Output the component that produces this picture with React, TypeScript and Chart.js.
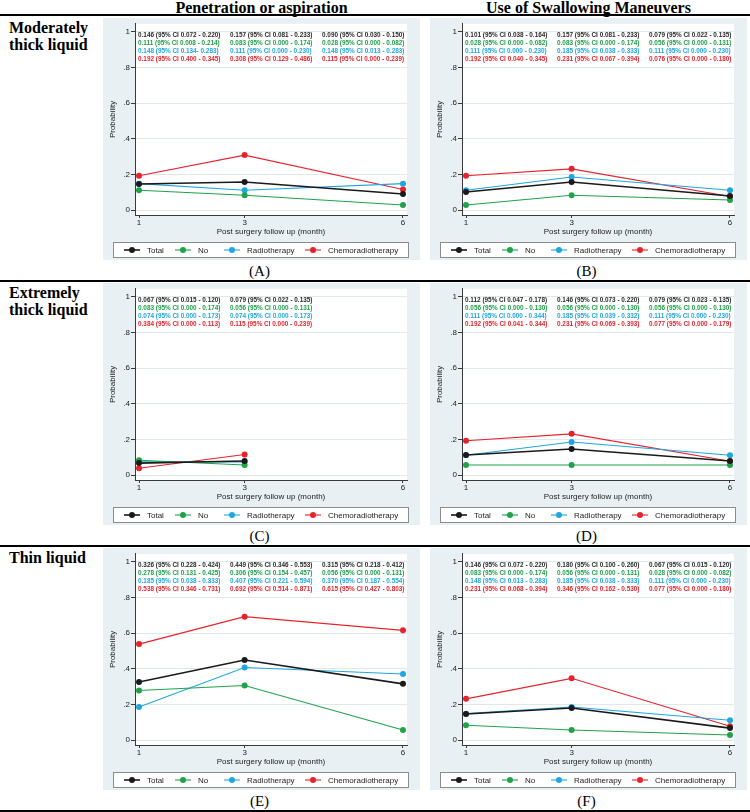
import React, { useEffect, useRef } from "react";
import { Chart, registerables } from "chart.js";

Chart.register(...registerables);

// ---- shared axes / series definitions ----
const months = [1, 3, 6];
const monthsShort = [1, 3];
const yTicks = [0, 0.2, 0.4, 0.6, 0.8, 1];
const seriesNames = ["Total", "No", "Radiotherapy", "Chemoradiotherapy"];
const seriesColors = ["#1a1a1a", "#1fa24a", "#1fa6e0", "#e8222b"];
const noteColors = ["#2a2a2a", "#1f9e48", "#22a5df", "#e4262e"];

// ---- (A) Penetration or aspiration, moderately thick liquid ----
const aTotal = [0.146, 0.157, 0.09];
const aNo = [0.111, 0.083, 0.028];
const aRadio = [0.148, 0.111, 0.148];
const aChemo = [0.192, 0.308, 0.115];
const aNotes = [
  ["0.146 (95% CI 0.072 - 0.220)", "0.157 (95% CI 0.081 - 0.233)", "0.090 (95% CI 0.030 - 0.150)"],
  ["0.111 (95% CI 0.008 - 0.214)", "0.083 (95% CI 0.000 - 0.174)", "0.028 (95% CI 0.000 - 0.082)"],
  ["0.148 (95% CI 0.134- 0.283)", "0.111 (95% CI 0.000 - 0.230)", "0.148 (95% CI 0.013 - 0.283)"],
  ["0.192 (95% CI 0.400 - 0.345)", "0.308 (95% CI 0.129 - 0.486)", "0.115 (95% CI 0.000 - 0.239)"],
];

// ---- (B) Use of swallowing maneuvers, moderately thick liquid ----
const bTotal = [0.101, 0.157, 0.079];
const bNo = [0.028, 0.083, 0.056];
const bRadio = [0.111, 0.185, 0.111];
const bChemo = [0.192, 0.231, 0.076];
const bNotes = [
  ["0.101 (95% CI 0.038 - 0.164)", "0.157 (95% CI 0.081 - 0.233)", "0.079 (95% CI 0.022 - 0.135)"],
  ["0.028 (95% CI 0.000 - 0.082)", "0.083 (95% CI 0.000 - 0.174)", "0.056 (95% CI 0.000 - 0.131)"],
  ["0.111 (95% CI 0.000 - 0.230)", "0.185 (95% CI 0.038 - 0.333)", "0.111 (95% CI 0.000 - 0.230)"],
  ["0.192 (95% CI 0.040 - 0.345)", "0.231 (95% CI 0.067 - 0.394)", "0.076 (95% CI 0.000 - 0.180)"],
];

// ---- (C) Penetration or aspiration, extremely thick liquid ----
const cTotal = [0.067, 0.079];
const cNo = [0.083, 0.056];
const cRadio = [0.074, 0.074];
const cChemo = [0.038, 0.115];
const cNotes = [
  ["0.067 (95% CI 0.015 - 0.120)", "0.079 (95% CI 0.022 - 0.135)"],
  ["0.083 (95% CI 0.000 - 0.174)", "0.056 (95% CI 0.000 - 0.131)"],
  ["0.074 (95% CI 0.000 - 0.173)", "0.074 (95% CI 0.000 - 0.173)"],
  ["0.384 (95% CI 0.000 - 0.113)", "0.115 (95% CI 0.000 - 0.239)"],
];

// ---- (D) Use of swallowing maneuvers, extremely thick liquid ----
const dTotal = [0.112, 0.146, 0.079];
const dNo = [0.056, 0.056, 0.056];
const dRadio = [0.111, 0.185, 0.111];
const dChemo = [0.192, 0.231, 0.077];
const dNotes = [
  ["0.112 (95% CI 0.047 - 0.178)", "0.146 (95% CI 0.073 - 0.220)", "0.079 (95% CI 0.023 - 0.135)"],
  ["0.056 (95% CI 0.000 - 0.130)", "0.056 (95% CI 0.000 - 0.130)", "0.056 (95% CI 0.000 - 0.130)"],
  ["0.111 (95% CI 0.000 - 0.344)", "0.185 (95% CI 0.039 - 0.332)", "0.111 (95% CI 0.000 - 0.230)"],
  ["0.192 (95% CI 0.041 - 0.344)", "0.231 (95% CI 0.069 - 0.393)", "0.077 (95% CI 0.000 - 0.179)"],
];

// ---- (E) Penetration or aspiration, thin liquid ----
const eTotal = [0.326, 0.449, 0.315];
const eNo = [0.278, 0.306, 0.056];
const eRadio = [0.185, 0.407, 0.37];
const eChemo = [0.538, 0.692, 0.615];
const eNotes = [
  ["0.326 (95% CI 0.228 - 0.424)", "0.449 (95% CI 0.346 - 0.553)", "0.315 (95% CI 0.218 - 0.412)"],
  ["0.278 (95% CI 0.131 - 0.425)", "0.306 (95% CI 0.154 - 0.457)", "0.056 (95% CI 0.000 - 0.131)"],
  ["0.185 (95% CI 0.038 - 0.333)", "0.407 (95% CI 0.221 - 0.594)", "0.370 (95% CI 0.187 - 0.554)"],
  ["0.538 (95% CI 0.346 - 0.731)", "0.692 (95% CI 0.514 - 0.871)", "0.615 (95% CI 0.427 - 0.803)"],
];

// ---- (F) Use of swallowing maneuvers, thin liquid ----
const fTotal = [0.146, 0.18, 0.067];
const fNo = [0.083, 0.056, 0.028];
const fRadio = [0.148, 0.185, 0.111];
const fChemo = [0.231, 0.346, 0.077];
const fNotes = [
  ["0.146 (95% CI 0.072 - 0.220)", "0.180 (95% CI 0.100 - 0.260)", "0.067 (95% CI 0.015 - 0.120)"],
  ["0.083 (95% CI 0.000 - 0.174)", "0.056 (95% CI 0.000 - 0.131)", "0.028 (95% CI 0.000 - 0.082)"],
  ["0.148 (95% CI 0.013 - 0.283)", "0.185 (95% CI 0.038 - 0.333)", "0.111 (95% CI 0.000 - 0.230)"],
  ["0.231 (95% CI 0.068 - 0.394)", "0.346 (95% CI 0.162 - 0.530)", "0.077 (95% CI 0.000 - 0.180)"],
];

const colHeaders = ["Penetration or aspiration", "Use of Swallowing Maneuvers"];
const rowLabels = [["Moderately", "thick liquid"], ["Extremely", "thick liquid"], ["Thin liquid"]];
const captions = ["(A)", "(B)", "(C)", "(D)", "(E)", "(F)"];

type PanelDef = {
  months: number[];
  series: number[][];
  notes: string[][];
};

const panels: PanelDef[] = [
  { months, series: [aTotal, aNo, aRadio, aChemo], notes: aNotes },
  { months, series: [bTotal, bNo, bRadio, bChemo], notes: bNotes },
  { months: monthsShort, series: [cTotal, cNo, cRadio, cChemo], notes: cNotes },
  { months, series: [dTotal, dNo, dRadio, dChemo], notes: dNotes },
  { months, series: [eTotal, eNo, eRadio, eChemo], notes: eNotes },
  { months, series: [fTotal, fNo, fRadio, fChemo], notes: fNotes },
];

// ---- layout ----
const PANEL_W = 317;
const PANEL_H = 242;
const COL_LEFT = [103, 430];
const ROW_PITCH = 265;
const PANEL_TOP0 = 18;
const SANS = '"Liberation Sans", Arial, sans-serif';
const SERIF = '"Liberation Serif", "Times New Roman", serif';
const PANEL_BG = "rgb(233,240,243)";
const GRID = "rgb(224,232,236)";
const AXIS = "#3a3a3a";
const INK = "#222";

const fmtY = (v: number) => (v === 0 ? "0" : v === 1 ? "1" : String(v).replace(/^0/, ""));

const backdrop = {
  id: "backdrop",
  beforeDraw(chart: any) {
    const { ctx, chartArea: a } = chart;
    ctx.save();
    ctx.fillStyle = PANEL_BG;
    ctx.fillRect(0, 0, chart.width, chart.height);
    ctx.fillStyle = "#ffffff";
    ctx.fillRect(a.left, a.top, a.right - a.left, a.bottom - a.top);
    ctx.restore();
  },
};

const notesPlugin = {
  id: "ciNotes",
  beforeDatasetsDraw(chart: any, _args: any, opts: any) {
    const { ctx, chartArea: a, scales } = chart;
    const y0 = scales.y.getPixelForValue(1);
    const notes: string[][] = opts.rows || [];
    ctx.save();
    ctx.font = `bold 6.4px ${SANS}`;
    ctx.textBaseline = "middle";
    ctx.textAlign = "left";
    notes.forEach((row, r) => {
      ctx.fillStyle = noteColors[r];
      row.forEach((txt, c) => {
        ctx.fillText(txt, a.left + 3 + c * 92, y0 + 3.5 + r * 8);
      });
    });
    ctx.restore();
  },
};

const legendBox = {
  id: "legendBox",
  afterDraw(chart: any) {
    const { ctx } = chart;
    const top = 224.5;
    const h = 15;
    ctx.save();
    ctx.fillStyle = "#ffffff";
    ctx.fillRect(10.5, top, 295, h);
    ctx.strokeStyle = "#8c8c8c";
    ctx.lineWidth = 1;
    ctx.strokeRect(10.5, top, 295, h);
    const cy = top + h / 2;
    const marks = [29, 80, 129, 210];
    ctx.font = `8px ${SANS}`;
    ctx.textBaseline = "middle";
    chart.data.datasets.forEach((ds: any, i: number) => {
      const m = marks[i];
      ctx.strokeStyle = seriesColors[i];
      ctx.lineWidth = ds.borderWidth;
      ctx.beginPath();
      ctx.moveTo(m - 8, cy);
      ctx.lineTo(m + 8, cy);
      ctx.stroke();
      ctx.fillStyle = seriesColors[i];
      ctx.beginPath();
      ctx.arc(m, cy, 3, 0, Math.PI * 2);
      ctx.fill();
      ctx.fillStyle = INK;
      ctx.fillText(ds.label, m + 15, cy + 0.5);
    });
    ctx.restore();
  },
};

function Panel({ def, left, top }: { def: PanelDef; left: number; top: number }) {
  const ref = useRef<HTMLCanvasElement>(null);
  useEffect(() => {
    const chart = new Chart(ref.current as HTMLCanvasElement, {
      type: "line",
      data: {
        datasets: seriesNames.map((name, i) => ({
          label: name,
          data: def.series[i].map((v, j) => ({ x: def.months[j], y: v })),
          borderColor: seriesColors[i],
          backgroundColor: seriesColors[i],
          pointBackgroundColor: seriesColors[i],
          pointBorderWidth: 0,
          pointRadius: 3,
          borderWidth: i === 0 ? 1.6 : 1.1,
          tension: 0,
        })),
      },
      options: {
        responsive: false,
        animation: false,
        devicePixelRatio: 1,
        layout: { padding: { left: 2, right: 13, top: 4, bottom: 22 } },
        plugins: {
          legend: { display: false },
          tooltip: { enabled: false },
          ciNotes: { rows: def.notes },
        } as any,
        scales: {
          x: {
            type: "linear",
            min: 0.924,
            max: 6.076,
            afterBuildTicks: (ax: any) => {
              ax.ticks = months.map((v) => ({ value: v }));
            },
            afterFit: (s: any) => {
              s.height = 23;
            },
            grid: { drawOnChartArea: false, tickLength: 3, tickColor: AXIS, color: AXIS },
            border: { color: AXIS, width: 1 },
            ticks: {
              font: { family: SANS, size: 8 },
              color: INK,
              padding: 0,
              maxRotation: 0,
              autoSkip: false,
              callback: (v: any) => String(v),
            },
            title: {
              display: true,
              text: "Post surgery follow up (month)",
              font: { family: SANS, size: 8 },
              color: INK,
              padding: { top: 0, bottom: 1 },
            },
          },
          y: {
            min: -0.0278,
            max: 1.0444,
            afterBuildTicks: (ax: any) => {
              ax.ticks = yTicks.map((v) => ({ value: v }));
            },
            afterFit: (s: any) => {
              s.width = 30;
            },
            grid: { color: GRID, tickLength: 4, tickColor: AXIS },
            border: { color: AXIS, width: 1 },
            ticks: {
              font: { family: SANS, size: 8 },
              color: INK,
              padding: 1,
              callback: (v: any) => fmtY(Number(v)),
            },
            title: {
              display: true,
              text: "Probability",
              font: { family: SANS, size: 8 },
              color: INK,
              padding: { top: 3, bottom: 0 },
            },
          },
        },
      } as any,
      plugins: [backdrop, notesPlugin, legendBox],
    });
    return () => chart.destroy();
  }, [def]);
  return (
    <canvas
      ref={ref}
      width={PANEL_W}
      height={PANEL_H}
      style={{ position: "absolute", left, top, width: PANEL_W, height: PANEL_H }}
    />
  );
}

export default function App() {
  const rules = [14, 280, 545, 810];
  return (
    <div
      style={{
        position: "absolute",
        left: 0,
        top: 0,
        width: 750,
        height: 812,
        background: "#fff",
        overflow: "hidden",
      }}
    >
      {colHeaders.map((t, c) => (
        <div
          key={t}
          style={{
            position: "absolute",
            left: COL_LEFT[c] + PANEL_W / 2 - 200,
            width: 400,
            top: -0.5,
            textAlign: "center",
            font: `bold 16px/16px ${SERIF}`,
            color: "#000",
            whiteSpace: "nowrap",
          }}
        >
          {t}
        </div>
      ))}
      {rules.map((y) => (
        <div
          key={y}
          style={{ position: "absolute", left: 0, width: 750, top: y, height: 2, background: "#000" }}
        />
      ))}
      {rowLabels.map((lines, r) => (
        <div
          key={r}
          style={{
            position: "absolute",
            left: 9,
            top: 19.4 + r * ROW_PITCH,
            font: `bold 16px/17px ${SERIF}`,
            color: "#000",
            whiteSpace: "nowrap",
          }}
        >
          {lines.map((l) => (
            <div key={l}>{l}</div>
          ))}
        </div>
      ))}
      {panels.map((def, i) => {
        const r = Math.floor(i / 2);
        const c = i % 2;
        return (
          <Panel key={i} def={def} left={COL_LEFT[c]} top={PANEL_TOP0 + r * ROW_PITCH} />
        );
      })}
      {captions.map((t, i) => {
        const r = Math.floor(i / 2);
        const c = i % 2;
        return (
          <div
            key={t}
            style={{
              position: "absolute",
              left: COL_LEFT[c] + PANEL_W / 2 - 50 - 2,
              width: 100,
              top: 263.7 + r * ROW_PITCH,
              textAlign: "center",
              font: `15px/15px ${SERIF}`,
              color: "#000",
            }}
          >
            {t}
          </div>
        );
      })}
    </div>
  );
}
